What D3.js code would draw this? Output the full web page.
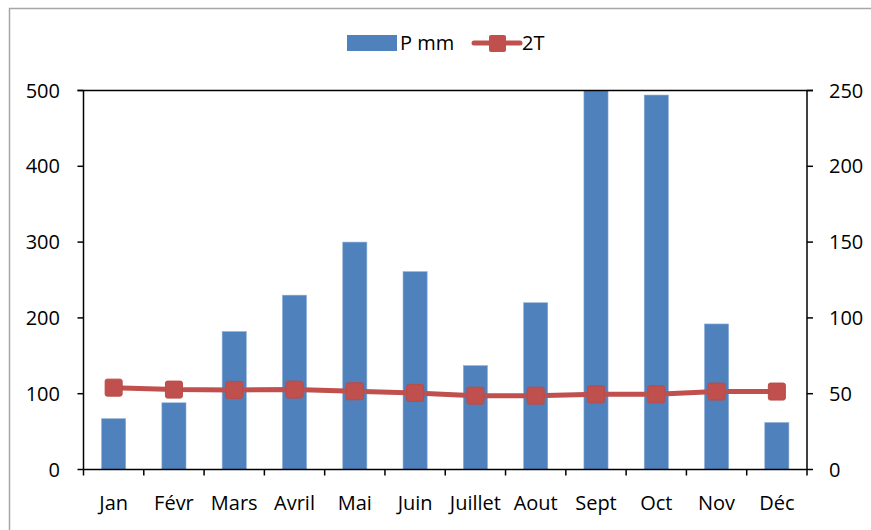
<!DOCTYPE html>
<html>
<head>
<meta charset="utf-8">
<script src="https://cdn.jsdelivr.net/npm/d3@7"></script>
<style>
  body { margin: 0; background: #fff; }
  text { font-family: "Open Sans", sans-serif; fill: #000; }
</style>
</head>
<body>
<svg id="mainsvg" width="871" height="530"></svg>
<script>
const MONTHS = ["Jan", "Févr", "Mars", "Avril", "Mai", "Juin", "Juillet", "Aout", "Sept", "Oct", "Nov", "Déc"]
const P_MM = [67, 88, 182, 230, 300, 261, 137, 220, 500, 494, 192, 62]
const T2 = [54, 52.7, 52.5, 52.7, 51.6, 50.5, 48.7, 48.7, 49.6, 49.6, 51.4, 51.4]
const LEFT_TICKS = [0, 100, 200, 300, 400, 500]
const RIGHT_TICKS = [0, 50, 100, 150, 200, 250]
const LEGEND = ["P mm", "2T"]

const BLUE = "#4F81BD"
const RED = "#C0504D"
const PLOT = { left: 83.5, right: 807, top: 90.5, bottom: 469.5 }
const FONT = 20

let svg = d3.select("#mainsvg")

// chart frame (only top/left visible)
svg.append("path")
  .attr("d", "M9.5,540 L9.5,8.5 L880,8.5")
  .attr("fill", "none")
  .attr("stroke", "#A6A6A6")
  .attr("stroke-width", 1.5)

let x = d3.scaleBand().domain(MONTHS).range([PLOT.left, PLOT.right]).padding(0)
let yL = d3.scaleLinear().domain([0, 500]).range([PLOT.bottom, PLOT.top])
let yR = d3.scaleLinear().domain([0, 250]).range([PLOT.bottom, PLOT.top])

let barW = x.bandwidth() / 2.5

// bars
svg.append("g").selectAll("rect")
  .data(P_MM)
  .enter()
  .append("rect")
  .attr("x", (d, i) => x(MONTHS[i]) + x.bandwidth() / 2 - barW / 2)
  .attr("y", d => yL(d))
  .attr("width", barW)
  .attr("height", d => yL(0) - yL(d))
  .attr("fill", BLUE)
  .attr("stroke", "#8EADD6")
  .attr("stroke-width", 0.6)

// axes
let axes = svg.append("g").attr("stroke", "#000").attr("stroke-width", 1.5)
axes.append("line").attr("x1", PLOT.left).attr("x2", PLOT.right).attr("y1", PLOT.bottom).attr("y2", PLOT.bottom)
axes.append("line").attr("x1", PLOT.left - 6).attr("x2", PLOT.right + 6).attr("y1", PLOT.top).attr("y2", PLOT.top)
axes.append("line").attr("x1", PLOT.left).attr("x2", PLOT.left).attr("y1", PLOT.top).attr("y2", PLOT.bottom)
axes.append("line").attr("x1", PLOT.right).attr("x2", PLOT.right).attr("y1", PLOT.top).attr("y2", PLOT.bottom)

axes.selectAll("line.tl").data(LEFT_TICKS).enter().append("line")
  .attr("class", "tl")
  .attr("x1", PLOT.left - 6).attr("x2", PLOT.left)
  .attr("y1", d => yL(d)).attr("y2", d => yL(d))
axes.selectAll("line.tr").data(RIGHT_TICKS).enter().append("line")
  .attr("class", "tr")
  .attr("x1", PLOT.right).attr("x2", PLOT.right + 6)
  .attr("y1", d => yR(d)).attr("y2", d => yR(d))
let bounds = MONTHS.map(m => x(m)).concat([PLOT.right])
axes.selectAll("line.tx").data(bounds).enter().append("line")
  .attr("class", "tx")
  .attr("x1", d => d).attr("x2", d => d)
  .attr("y1", PLOT.bottom).attr("y2", PLOT.bottom + 6)

// tick labels
svg.append("g").selectAll("text")
  .data(LEFT_TICKS).enter().append("text")
  .attr("x", 60).attr("y", d => yL(d))
  .attr("dy", "0.35em")
  .attr("text-anchor", "end")
  .attr("font-size", FONT)
  .text(d => d)

svg.append("g").selectAll("text")
  .data(RIGHT_TICKS).enter().append("text")
  .attr("x", 829).attr("y", d => yR(d))
  .attr("dy", "0.35em")
  .attr("text-anchor", "start")
  .attr("font-size", FONT)
  .text(d => d)

svg.append("g").selectAll("text")
  .data(MONTHS).enter().append("text")
  .attr("x", d => x(d) + x.bandwidth() / 2)
  .attr("y", 510)
  .attr("text-anchor", "middle")
  .attr("font-size", FONT)
  .text(d => d)

// line series
let line = d3.line()
  .x((d, i) => x(MONTHS[i]) + x.bandwidth() / 2)
  .y(d => yR(d))

svg.append("path")
  .datum(T2)
  .attr("d", line)
  .attr("fill", "none")
  .attr("stroke", RED)
  .attr("stroke-width", 5)
  .attr("stroke-linejoin", "round")

svg.append("g").selectAll("rect")
  .data(T2).enter().append("rect")
  .attr("x", (d, i) => x(MONTHS[i]) + x.bandwidth() / 2 - 8.5)
  .attr("y", d => yR(d) - 8.5)
  .attr("width", 17).attr("height", 17)
  .attr("rx", 2)
  .attr("fill", RED)
  .attr("stroke", "#B84C49")
  .attr("stroke-width", 1)

// legend
let legend = svg.append("g")
legend.append("rect")
  .attr("x", 347).attr("y", 35).attr("width", 50).attr("height", 16)
  .attr("fill", BLUE)
legend.append("text")
  .attr("x", 400).attr("y", 50)
  .attr("font-size", FONT)
  .text(LEGEND[0])
legend.append("line")
  .attr("x1", 474).attr("x2", 520).attr("y1", 43).attr("y2", 43)
  .attr("stroke", RED).attr("stroke-width", 5).attr("stroke-linecap", "round")
legend.append("rect")
  .attr("x", 489).attr("y", 35).attr("width", 17).attr("height", 17)
  .attr("rx", 2)
  .attr("fill", RED)
legend.append("text")
  .attr("x", 522).attr("y", 50)
  .attr("font-size", FONT)
  .text(LEGEND[1])
</script>
</body>
</html>
